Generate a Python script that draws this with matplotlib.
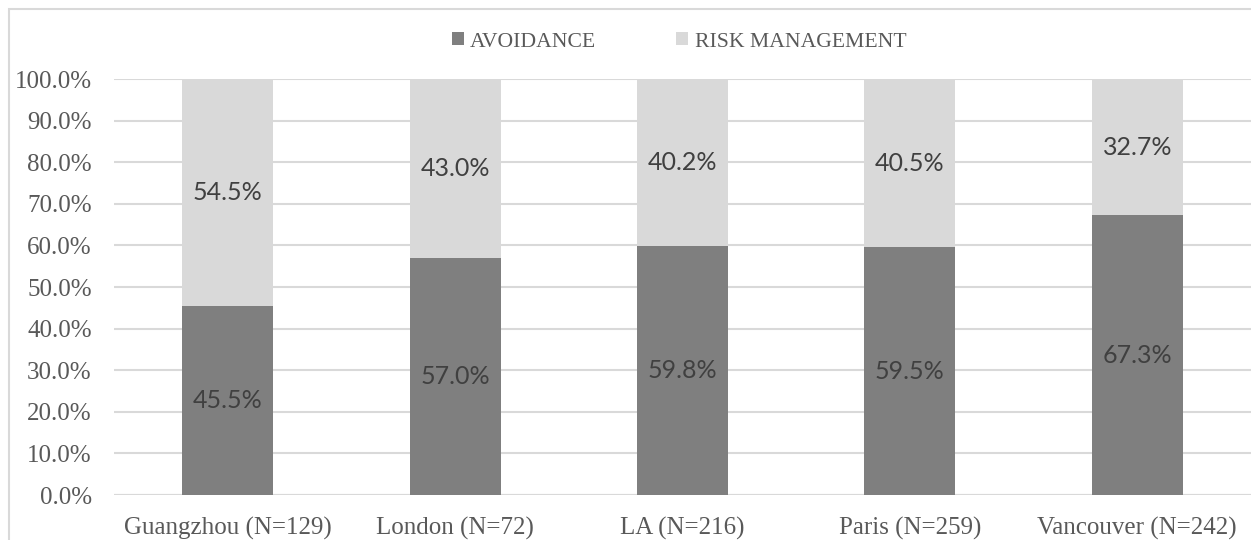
import matplotlib
matplotlib.use("Agg")
import matplotlib.pyplot as plt
from matplotlib.patches import Rectangle
import numpy as np

categories = ["Guangzhou (N=129)", "London (N=72)", "LA (N=216)", "Paris (N=259)", "Vancouver (N=242)"]
avoidance = [45.5, 57.0, 59.8, 59.5, 67.3]
risk_management = [54.5, 43.0, 40.2, 40.5, 32.7]
series_names = ["AVOIDANCE", "RISK MANAGEMENT"]
yticks = [0, 10, 20, 30, 40, 50, 60, 70, 80, 90, 100]

W, H = 1251, 540
fig = plt.figure(figsize=(W / 100, H / 100), dpi=100)
fig.patch.set_facecolor("white")

serif = ["Liberation Serif", "DejaVu Serif"]
sans = ["Lato", "DejaVu Sans"]

# outer chart border (extends past right/bottom edges)
fig.add_artist(Rectangle((9 / W, -0.1), 1.2, (H - 9) / H + 0.1, transform=fig.transFigure,
                         fill=False, edgecolor="#d9d9d9", linewidth=1.5))

ax = fig.add_axes([114 / W, (H - 495) / H, (1251 - 114) / W, (495 - 79) / H])
x = np.arange(len(categories))
dark = "#7f7f7f"
light = "#d9d9d9"
b1 = ax.bar(x, avoidance, width=0.4, color=dark, zorder=3, label=series_names[0])
b2 = ax.bar(x, risk_management, width=0.4, bottom=avoidance, color=light, zorder=3, label=series_names[1])

ax.set_xlim(-0.5, len(categories) - 0.5)
ax.set_ylim(0, 100)
ax.set_yticks(yticks)
ax.set_yticklabels([f"{v:.1f}%" for v in yticks], fontfamily=serif, fontsize=18, color="#595959")
ax.set_xticks(x)
ax.set_xticklabels(categories, fontfamily=serif, fontsize=18, color="#595959")
ax.tick_params(axis="both", length=0)
ax.tick_params(axis="y", pad=16)
ax.tick_params(axis="x", pad=16)
ax.grid(axis="y", color="#d9d9d9", linewidth=1.5, zorder=0)
for s in ax.spines.values():
    s.set_visible(False)
ax.axhline(0, color="#d9d9d9", linewidth=1.5, zorder=2)

for i in range(len(categories)):
    ax.text(x[i], avoidance[i] / 2, f"{avoidance[i]:.1f}%", ha="center", va="center",
            fontfamily=sans, fontsize=18, color="#404040", zorder=4)
    ax.text(x[i], avoidance[i] + risk_management[i] / 2, f"{risk_management[i]:.1f}%", ha="center",
            va="center", fontfamily=sans, fontsize=18, color="#404040", zorder=4)

leg = fig.legend(handles=[b1, b2], labels=series_names, loc="center", bbox_to_anchor=(679 / W, 1 - 42 / H),
                 ncol=2, frameon=False, handlelength=0.55, handleheight=0.55, handletextpad=0.3,
                 columnspacing=3.7, prop={"family": serif, "size": 15.6})
for t in leg.get_texts():
    t.set_color("#595959")

fig.savefig("out.png", dpi=100)
